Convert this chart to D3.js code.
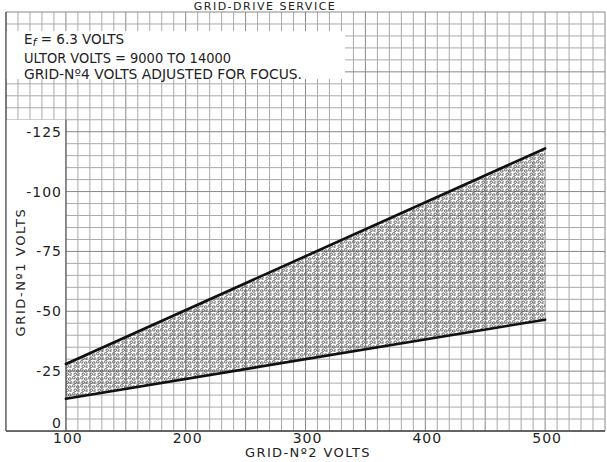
<!DOCTYPE html>
<html>
<head>
<meta charset="utf-8">
<script src="https://cdn.jsdelivr.net/npm/d3@7"></script>
<style>
  body { margin: 0; background: #fff; }
  text { font-family: "DejaVu Sans", sans-serif; fill: #222; }
</style>
</head>
<body>
<div id="chart"></div>
<script>
// grid-No.2 volts at the two ends of the shaded band
var grid2Volts = [100, 500];
// band edges, grid-No.1 volts
var upperEdge = [-28, -118];
var lowerEdge = [-13.5, -46.5];

var xTicks = [100, 200, 300, 400, 500];
var yTicks = [0, -25, -50, -75, -100, -125];
var yTickLabels = ["0", "-25", "-50", "-75", "-100", "-125"];

var titleText = "GRID-DRIVE SERVICE";
var xTitle = "GRID-N\u00BA2 VOLTS";
var yTitle = "GRID-N\u00BA1 VOLTS";
var noteLines = ["ULTOR VOLTS = 9000 TO 14000", "GRID-N\u00BA4 VOLTS ADJUSTED FOR FOCUS."];

function buildChart(){
    var width = 607;
    var height = 462;

    var x = d3.scaleLinear().domain([50, 550]).range([6, 605]);
    var y = d3.scaleLinear().domain([0, -175]).range([431, 12]);

    var svg = d3.select("#chart")
        .append("svg")
        .attr("width", width)
        .attr("height", height);

    // stipple for the band
    var pat = svg.append("defs").append("pattern")
        .attr("id", "stipple")
        .attr("patternUnits", "userSpaceOnUse")
        .attr("width", 8)
        .attr("height", 8);
    [[1.8, 1.8], [5.8, 3], [3.2, 6.2], [7.2, 7]].forEach(function(p){
        pat.append("circle")
            .attr("cx", p[0]).attr("cy", p[1]).attr("r", 1.3)
            .attr("fill", "none")
            .attr("stroke", "#444")
            .attr("stroke-width", 0.8);
    });

    // graph paper
    var g = svg.append("g");
    g.selectAll(".vline")
        .data(d3.range(50, 551, 10))
        .enter()
        .append("line")
        .attr("x1", function(d){ return x(d); })
        .attr("x2", function(d){ return x(d); })
        .attr("y1", y(-175))
        .attr("y2", y(0))
        .attr("stroke", function(d){ return d % 50 == 0 ? "#888" : "#aaa"; })
        .attr("stroke-width", 1);

    g.selectAll(".hline")
        .data(d3.range(0, -176, -5))
        .enter()
        .append("line")
        .attr("x1", x(50))
        .attr("x2", x(550))
        .attr("y1", function(d){ return y(d); })
        .attr("y2", function(d){ return y(d); })
        .attr("stroke", function(d){ return d % 25 == 0 ? "#888" : "#aaa"; })
        .attr("stroke-width", 1);

    // white patches for the notes and the y labels
    svg.append("rect")
        .attr("x", x(50)).attr("y", y(-167))
        .attr("width", x(333) - x(50))
        .attr("height", y(-147) - y(-167))
        .attr("fill", "#fff");
    svg.append("rect")
        .attr("x", x(50)).attr("y", y(-130))
        .attr("width", x(100) - x(50))
        .attr("height", y(0) - y(-130))
        .attr("fill", "#fff");

    // frame
    svg.append("line")
        .attr("x1", x(50)).attr("x2", x(50))
        .attr("y1", y(-175)).attr("y2", y(0))
        .attr("stroke", "#555").attr("stroke-width", 1.3);
    svg.append("line")
        .attr("x1", x(100)).attr("x2", x(100))
        .attr("y1", y(-130)).attr("y2", y(0))
        .attr("stroke", "#555").attr("stroke-width", 1.2);
    svg.append("line")
        .attr("x1", x(50)).attr("x2", x(550))
        .attr("y1", y(0)).attr("y2", y(0))
        .attr("stroke", "#444").attr("stroke-width", 1.4);

    // band
    var band = grid2Volts.map(function(v, i){ return {v: v, hi: upperEdge[i], lo: lowerEdge[i]}; });

    var area = d3.area()
        .x(function(d){ return x(d.v); })
        .y0(function(d){ return y(d.lo); })
        .y1(function(d){ return y(d.hi); });

    svg.append("path")
        .datum(band)
        .attr("d", area)
        .attr("fill", "url(#stipple)");

    var edge = d3.line()
        .x(function(d){ return x(d[0]); })
        .y(function(d){ return y(d[1]); });

    [upperEdge, lowerEdge].forEach(function(e){
        svg.append("path")
            .datum(d3.zip(grid2Volts, e))
            .attr("d", edge)
            .attr("fill", "none")
            .attr("stroke", "#111")
            .attr("stroke-width", 2.6)
            .attr("stroke-linecap", "round");
    });

    // tick labels
    svg.selectAll(".xtick")
        .data(xTicks)
        .enter()
        .append("text")
        .attr("x", function(d){ return x(d) + 2; })
        .attr("y", 443)
        .attr("text-anchor", "middle")
        .attr("font-size", 14)
        .attr("letter-spacing", 1)
        .text(function(d){ return d; });

    svg.selectAll(".ytick")
        .data(yTicks)
        .enter()
        .append("text")
        .attr("x", 62)
        .attr("y", function(d){ return d == 0 ? y(d) - 3 : y(d) + 5; })
        .attr("text-anchor", "end")
        .attr("font-size", 14)
        .attr("letter-spacing", 1)
        .text(function(d, i){ return yTickLabels[i]; });

    // axis titles
    svg.append("text")
        .attr("x", 308)
        .attr("y", 457)
        .attr("text-anchor", "middle")
        .attr("font-size", 13)
        .attr("letter-spacing", 1.4)
        .text(xTitle);

    svg.append("text")
        .attr("transform", "translate(25,272) rotate(-90)")
        .attr("text-anchor", "middle")
        .attr("font-size", 13)
        .attr("letter-spacing", 1.6)
        .text(yTitle);

    // title, at the very top of the scan
    svg.append("text")
        .attr("x", 265)
        .attr("y", 10)
        .attr("text-anchor", "middle")
        .attr("font-size", 11)
        .attr("letter-spacing", 1.5)
        .text(titleText);

    // notes
    var ef = svg.append("text")
        .attr("x", 24)
        .attr("y", 44)
        .attr("font-size", 13.5);
    ef.append("tspan").text("E");
    ef.append("tspan").attr("dy", 1.5).attr("font-size", 11).attr("font-style", "italic").text("f");
    ef.append("tspan").attr("dy", -1.5).text(" = 6.3 VOLTS");

    svg.selectAll(".note")
        .data(noteLines)
        .enter()
        .append("text")
        .attr("x", 24)
        .attr("y", function(d, i){ return 63 + i * 16; })
        .attr("font-size", 13.5)
        .attr("textLength", function(d, i){ return i == 0 ? 207 : 278; })
        .attr("lengthAdjust", "spacingAndGlyphs")
        .text(function(d){ return d; });
}

buildChart();
</script>
</body>
</html>
